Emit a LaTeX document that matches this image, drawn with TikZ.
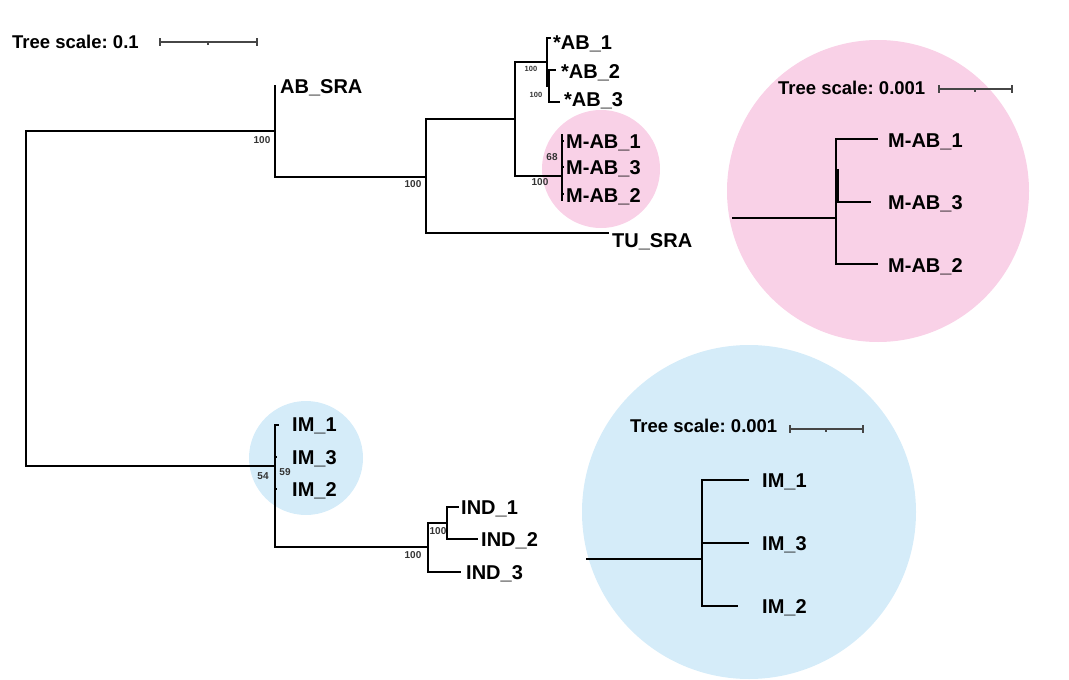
\documentclass[tikz,border=0pt]{standalone}
\usepackage{fontspec}
\setmainfont{Liberation Sans}
\definecolor{cladepink}{RGB}{249,209,231}
\definecolor{cladeblue}{RGB}{213,236,249}
\definecolor{barcol}{RGB}{70,70,70}
\frenchspacing
\begin{document}
\begin{tikzpicture}[x=1pt,y=-1pt,
  branch/.style={line width=1.7pt, line cap=rect},
  leaf/.style={anchor=base west, inner sep=0pt, yshift=-7.2pt,
    font=\fontsize{20}{24}\selectfont\bfseries},
  scaletext/.style={anchor=base west, inner sep=0pt, yshift=-6.6pt,
    font=\fontsize{18.5}{22}\selectfont\bfseries},
  support/.style={anchor=base, inner sep=0pt, yshift=-3.6pt,
    font=\fontsize{10}{12}\selectfont\bfseries, text=black!80},
  smallsupport/.style={anchor=base, inner sep=0pt, yshift=-2.7pt,
    font=\fontsize{7.5}{9}\selectfont\bfseries, text=black!80},
  scalebar/.style={line width=1.1pt, draw=barcol},
]
\useasboundingbox (0,0) rectangle (1069,680);

% clade highlights
\fill[cladepink] (601,169) circle (59);
\fill[cladeblue] (306,458) circle (57);
\fill[cladepink] (878,191) circle (151);
\fill[cladeblue] (749,512) circle (167);

% ---------- main tree: scale bar ----------
\node[scaletext] (ts0) at (12,42) {Tree scale: 0.1};
\coordinate (b0l) at (160,42);
\coordinate (b0m) at (208,42);
\coordinate (b0r) at (257,42);
\draw[scalebar] (b0l) -- (b0r);
\draw[scalebar] ([yshift=4pt]b0l) -- ([yshift=-4pt]b0l);
\draw[scalebar] ([yshift=4pt]b0r) -- ([yshift=-4pt]b0r);
\draw[scalebar] (b0m) -- ([yshift=-3pt]b0m);

% ---------- main tree: internal nodes and leaves ----------
\coordinate (root) at (26,298);
\coordinate (n1) at (275,131);
\coordinate (absra) at (275,86);
\coordinate (n2) at (426,177);
\coordinate (tusra) at (608,233);
\coordinate (n3) at (515,119);
\coordinate (n4) at (547,62);
\coordinate (ab1) at (550,38);
\coordinate (n5) at (549,86);
\coordinate (ab2) at (555,70);
\coordinate (ab3) at (559,102);
\coordinate (n6) at (562,176);
\coordinate (n6t) at (562,135);
\coordinate (n6b) at (562,200);

\coordinate (m1) at (275,466);
\coordinate (im1) at (278,425);
\coordinate (m2) at (428,547);
\coordinate (m3) at (447,523);
\coordinate (ind1) at (458,507);
\coordinate (ind2) at (477,539);
\coordinate (ind3) at (460,572);

\draw[branch] (root) |- (n1);
\draw[branch] (root) |- (m1);
\draw[branch] (n1) |- (absra);
\draw[branch] (n1) |- (n2);
\draw[branch] (n2) |- (n3);
\draw[branch] (n2) |- (tusra);
\draw[branch] (n3) |- (n4);
\draw[branch] (n3) |- (n6);
\draw[branch] (n4) |- (ab1);
\draw[branch] (n4) |- (n5);
\draw[branch] (n5) |- (ab2);
\draw[branch] (n5) |- (ab3);
\draw[branch] (n6t) -- (n6b);
\draw[line width=1.2pt] (562,141) -- (564,141) (562,167) -- (564,167) (562,194) -- (564,194);

\draw[branch] (m1) |- (im1);
\draw[branch] (m1) |- (m2);
\draw[line width=1.2pt] (275,457) -- (277,457) (275,489) -- (277,489);
\draw[branch] (m2) |- (m3);
\draw[branch] (m2) |- (ind3);
\draw[branch] (m3) |- (ind1);
\draw[branch] (m3) |- (ind2);

% leaf labels
\node[leaf] (lAB) at (280,86) {AB\_SRA};
\node[leaf] (lab1) at (553,42) {*AB\_1};
\node[leaf] (lab2) at (561,71) {*AB\_2};
\node[leaf] (lab3) at (564,99) {*AB\_3};
\node[leaf] (lmab1) at (566,141) {M-AB\_1};
\node[leaf] (lmab3) at (566,167) {M-AB\_3};
\node[leaf] (lmab2) at (566,195) {M-AB\_2};
\node[leaf] (ltu) at (612,240) {TU\_SRA};
\node[leaf] (lim1) at (292,424) {IM\_1};
\node[leaf] (lim3) at (292,457) {IM\_3};
\node[leaf] (lim2) at (292,489) {IM\_2};
\node[leaf] (lind1) at (461,507) {IND\_1};
\node[leaf] (lind2) at (481,539) {IND\_2};
\node[leaf] (lind3) at (466,572) {IND\_3};

% support values
\node[support] (s1) at (262,140) {100};
\node[support] (s2) at (413,184) {100};
\node[smallsupport] (s3) at (531,69) {100};
\node[smallsupport] (s4) at (536,95) {100};
\node[support] (s5) at (540,182) {100};
\node[support] (s6) at (552,157) {68};
\node[support] (s7) at (263,476) {54};
\node[support] (s8) at (285,472) {59};
\node[support] (s9) at (413,555) {100};
\node[support] (s10) at (438,531) {100};

% ---------- M-AB detail ----------
\node[scaletext] (ts1) at (778,88) {Tree scale: 0.001};
\coordinate (b1l) at (939,89);
\coordinate (b1m) at (975,89);
\coordinate (b1r) at (1012,89);
\draw[scalebar] (b1l) -- (b1r);
\draw[scalebar] ([yshift=4pt]b1l) -- ([yshift=-4pt]b1l);
\draw[scalebar] ([yshift=4pt]b1r) -- ([yshift=-4pt]b1r);
\draw[scalebar] (b1m) -- ([yshift=-3pt]b1m);

\coordinate (p0) at (733,218);
\coordinate (p1) at (836,218);
\coordinate (pa) at (877,139);
\coordinate (pc) at (870,202);
\coordinate (pb) at (877,264);
\coordinate (pt) at (838,170);
\draw[branch] (p0) -- (p1);
\draw[branch] (p1) |- (pa);
\draw[branch] (p1) |- (pb);
\draw[branch] (pt) |- (pc);
\node[leaf] (dmab1) at (888,140) {M-AB\_1};
\node[leaf] (dmab3) at (888,202) {M-AB\_3};
\node[leaf] (dmab2) at (888,265) {M-AB\_2};

% ---------- IM detail ----------
\node[scaletext] (ts2) at (630,426) {Tree scale: 0.001};
\coordinate (b2l) at (790,429);
\coordinate (b2m) at (826,429);
\coordinate (b2r) at (863,429);
\draw[scalebar] (b2l) -- (b2r);
\draw[scalebar] ([yshift=4pt]b2l) -- ([yshift=-4pt]b2l);
\draw[scalebar] ([yshift=4pt]b2r) -- ([yshift=-4pt]b2r);
\draw[scalebar] (b2m) -- ([yshift=-3pt]b2m);

\coordinate (q0) at (587,559);
\coordinate (q1) at (702,559);
\coordinate (qa) at (748,480);
\coordinate (qc) at (748,543);
\coordinate (qb) at (737,606);
\draw[branch] (q0) -- (q1);
\draw[branch] (q1) |- (qa);
\draw[branch] (q1) |- (qc);
\draw[branch] (q1) |- (qb);
\node[leaf] (dim1) at (762,480) {IM\_1};
\node[leaf] (dim3) at (762,543) {IM\_3};
\node[leaf] (dim2) at (762,606) {IM\_2};
\end{tikzpicture}
\end{document}
